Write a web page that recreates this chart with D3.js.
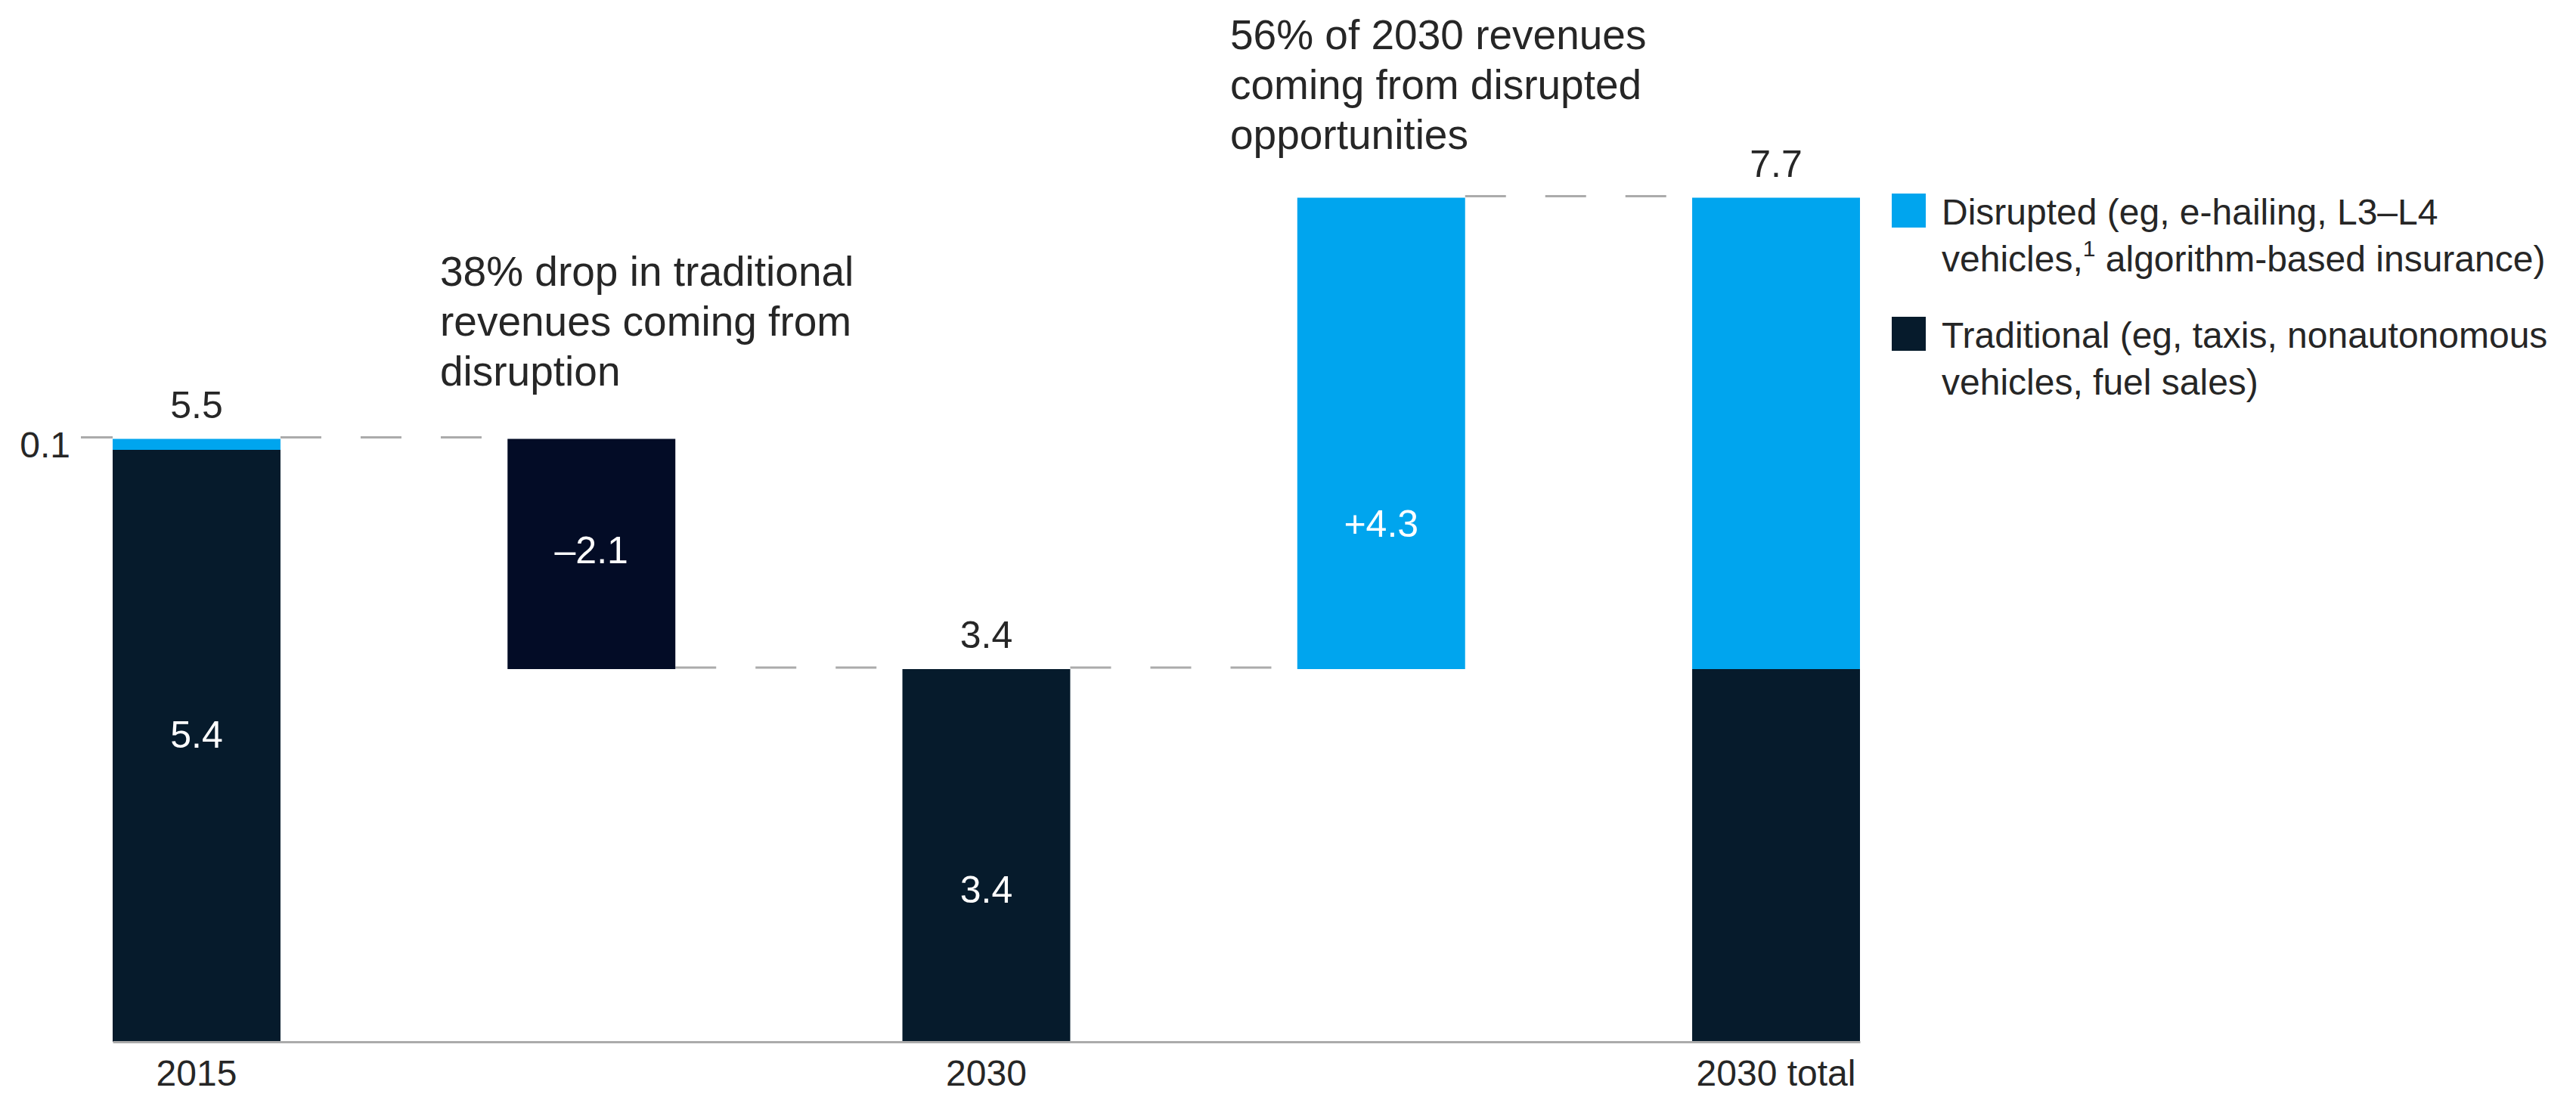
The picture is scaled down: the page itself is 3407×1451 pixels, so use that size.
<!DOCTYPE html>
<html>
<head>
<meta charset="utf-8">
<script src="https://cdn.jsdelivr.net/npm/d3@7"></script>
<style>
  html, body { margin: 0; padding: 0; background: #ffffff; }
  svg { display: block; }
  text { font-family: "Liberation Sans", Arial, sans-serif; }
</style>
</head>
<body>
<svg id="chart" width="3407" height="1451"></svg>
<script>
// Mobility revenues waterfall, 2015 to 2030 ($ trillion)
const categories = ["2015", "Disruption loss", "2030", "Disrupted gain", "2030 total"];
const tickLabels = ["2015", "", "2030", "", "2030 total"];
const traditional = [5.4, null, 3.4, null, 3.4];   // stacked totals: traditional part
const disrupted   = [0.1, null, null, null, 4.3];  // stacked totals: disrupted part
const changes     = [null, -2.1, null, 4.3, null]; // floating steps
const totalLabels = ["5.5", null, "3.4", null, "7.7"];
const changeLabels = [null, "\u20132.1", null, "+4.3", null];
const innerTradLabels = ["5.4", null, "3.4", null, null];

const annotations = [
  ["38% drop in traditional", "revenues coming from", "disruption"],
  ["56% of 2030 revenues", "coming from disrupted", "opportunities"]
];
const legendItems = [
  { key: "disrupted", lines: [["Disrupted (eg, e-hailing, L3\u2013L4"], ["vehicles,", "1", " algorithm-based insurance)"]] },
  { key: "traditional", lines: [["Traditional (eg, taxis, nonautonomous"], ["vehicles, fuel sales)"]] }
];

const colors = {
  traditional: "#061b2c",
  loss: "#030c26",
  disrupted: "#00a5ee",
  text: "#262626",
  rule: "#ababab"
};

const svg = d3.select("#chart");

const x = d3.scaleBand()
  .domain(categories)
  .range([149, 2460])
  .paddingInner(0.575)
  .paddingOuter(0);

const y = d3.scaleLinear().domain([0, 8]).range([1378, 218]);

// Build bar segments from the data arrays
const segments = [];
const ends = [];
let running = 0;
categories.forEach((c, i) => {
  if (traditional[i] != null) {
    const t = traditional[i];
    const d = disrupted[i] || 0;
    segments.push({ c, y0: 0, y1: t, fill: colors.traditional });
    if (d > 0) segments.push({ c, y0: t, y1: t + d, fill: colors.disrupted });
    running = +(t + d).toFixed(1);
    ends.push({ i, start: running, end: running });
  } else {
    const v = changes[i];
    const next = +(running + v).toFixed(1);
    segments.push({
      c,
      y0: Math.min(running, next),
      y1: Math.max(running, next),
      fill: v < 0 ? colors.loss : colors.disrupted
    });
    ends.push({ i, start: running, end: next });
    running = next;
  }
});

// Dashed connectors between consecutive bars
const connectors = d3.range(ends.length - 1).map(k => ({
  x1: x(categories[k]) + x.bandwidth(),
  x2: x(categories[k + 1]),
  v: ends[k].end
}));
svg.append("g").selectAll("line").data(connectors).join("line")
  .attr("x1", d => d.x1)
  .attr("x2", d => d.x2)
  .attr("y1", d => y(d.v) - 2)
  .attr("y2", d => y(d.v) - 2)
  .attr("stroke", colors.rule)
  .attr("stroke-width", 3)
  .attr("stroke-dasharray", "54,52");

// Bars
svg.append("g").selectAll("rect").data(segments).join("rect")
  .attr("x", d => x(d.c))
  .attr("width", x.bandwidth())
  .attr("y", d => y(d.y1))
  .attr("height", d => y(d.y0) - y(d.y1))
  .attr("fill", d => d.fill);

// Axis with category labels
const axis = svg.append("g")
  .attr("transform", `translate(0,${y(0)})`)
  .call(d3.axisBottom(x)
    .tickSize(0)
    .tickSizeOuter(0)
    .tickPadding(24)
    .tickFormat((d, i) => tickLabels[i]));
axis.select(".domain").attr("stroke", colors.rule).attr("stroke-width", 3);
axis.selectAll("text")
  .attr("font-size", 48)
  .attr("fill", colors.text)
  .style("font-family", "'Liberation Sans', Arial, sans-serif");

// Totals above bars
const cx = c => x(c) + x.bandwidth() / 2;
svg.append("g").selectAll("text")
  .data(categories.map((c, i) => ({ c, i })).filter(d => totalLabels[d.i]))
  .join("text")
  .attr("x", d => cx(d.c))
  .attr("y", d => y(ends[d.i].end) - 28)
  .attr("text-anchor", "middle")
  .attr("font-size", 50)
  .attr("fill", colors.text)
  .text(d => totalLabels[d.i]);

// Labels inside bars (vertical placement as a share of the bar height)
const innerPlace = [0.52, 0.52, 0.41, 0.31, null];
const inner = [];
categories.forEach((c, i) => {
  if (innerTradLabels[i]) inner.push({ c, text: innerTradLabels[i], v: traditional[i] * innerPlace[i] });
  if (changeLabels[i]) {
    const lo = Math.min(ends[i].start, ends[i].end);
    inner.push({ c, text: changeLabels[i], v: lo + Math.abs(changes[i]) * innerPlace[i] });
  }
});
svg.append("g").selectAll("text").data(inner).join("text")
  .attr("x", d => cx(d.c))
  .attr("y", d => y(d.v))
  .attr("dy", "0.36em")
  .attr("text-anchor", "middle")
  .attr("font-size", 50)
  .attr("fill", "#ffffff")
  .text(d => d.text);

// Small disrupted share in 2015, labelled at the left
const smallShare = disrupted[0];
svg.append("text")
  .attr("x", 93)
  .attr("y", y(traditional[0] + smallShare / 2))
  .attr("dy", "0.36em")
  .attr("text-anchor", "end")
  .attr("font-size", 48)
  .attr("fill", colors.text)
  .text(String(smallShare));
svg.append("line")
  .attr("x1", 107).attr("x2", x(categories[0]))
  .attr("y1", y(traditional[0] + smallShare) - 2)
  .attr("y2", y(traditional[0] + smallShare) - 2)
  .attr("stroke", colors.rule)
  .attr("stroke-width", 3);

// Annotations
const annoPos = [{ x: 582, y: 378 }, { x: 1627, y: 65 }];
annotations.forEach((lines, k) => {
  const t = svg.append("text")
    .attr("x", annoPos[k].x)
    .attr("y", annoPos[k].y)
    .attr("font-size", 55)
    .attr("fill", colors.text);
  lines.forEach((ln, j) => {
    t.append("tspan")
      .attr("x", annoPos[k].x)
      .attr("dy", j === 0 ? 0 : 66)
      .text(ln);
  });
});

// Legend
const legend = svg.append("g").attr("transform", "translate(2502,256)");
const legendFill = { disrupted: colors.disrupted, traditional: colors.traditional };
legendItems.forEach((item, k) => {
  const g = legend.append("g").attr("transform", `translate(0,${k * 163})`);
  g.append("rect").attr("width", 45).attr("height", 45).attr("fill", legendFill[item.key]);
  const t = g.append("text").attr("font-size", 48).attr("fill", colors.text);
  item.lines.forEach((parts, j) => {
    const line = t.append("tspan").attr("x", 66).attr("y", 41 + j * 62);
    parts.forEach((p, pi) => {
      if (parts.length > 1 && pi === 1) {
        t.append("tspan").attr("font-size", 30).attr("dy", -20).text(p);
      } else if (parts.length > 1 && pi === 2) {
        t.append("tspan").attr("dy", 20).text(p);
      } else {
        line.text(p);
      }
    });
  });
});
</script>
</body>
</html>
